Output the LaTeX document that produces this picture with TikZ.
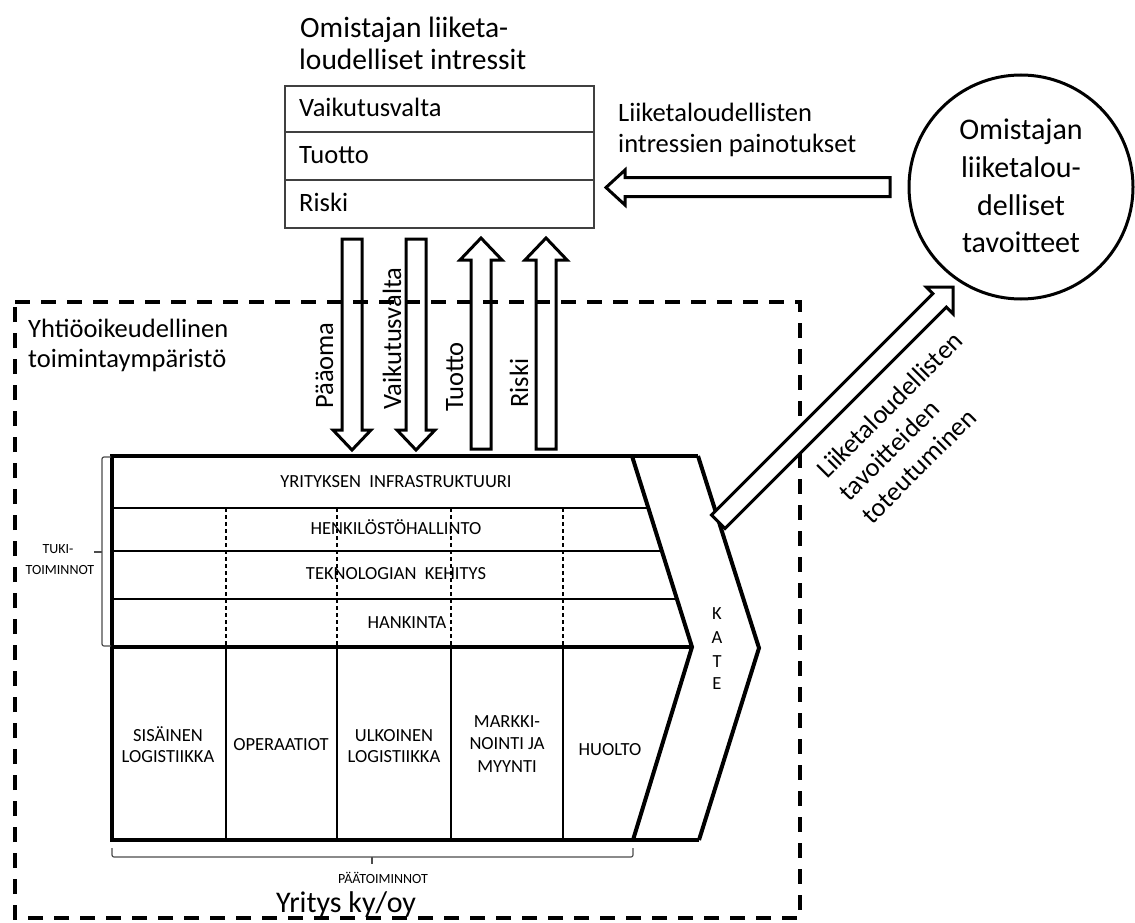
\documentclass[tikz,border=0pt]{standalone}
\usepackage{fontspec}
\setmainfont{Carlito}
\tikzset{
  big/.style={font=\fontsize{26.5}{32}\selectfont, inner sep=0pt},
  titletext/.style={font=\fontsize{29.5}{32}\selectfont, inner sep=0pt},
  circtext/.style={font=\fontsize{30}{37}\selectfont, inner sep=0pt},
  huge/.style={font=\fontsize{30}{36}\selectfont, inner sep=0pt},
  small/.style={font=\fontsize{18.5}{21}\selectfont, inner sep=0pt},
  tiny/.style={font=\fontsize{14}{17}\selectfont, inner sep=0pt},
  blockarrow/.style={draw=black, line width=3pt, line join=miter},
  thickline/.style={line width=4pt, line join=miter},
  thinline/.style={line width=1.3pt},
  boxline/.style={draw=black!75, line width=1.6pt},
  bracestyle/.style={draw=black!70, line width=1.2pt, rounded corners=2pt},
}
\begin{document}
\begin{tikzpicture}[x=1pt,y=-1pt]
\useasboundingbox (0,0) rectangle (1135,923);

% title and box of interests
\node[titletext, anchor=base west] (t1) at (300,38) {Omistajan liiketa-};
\node[titletext, anchor=base west] (t2) at (299,70) {loudelliset intressit};
\node[boxline, minimum width=309pt, minimum height=142pt, inner sep=0pt, anchor=north west] (box) at (284,85) {};
\draw[boxline] (box.west |- 0,132) -- (box.east |- 0,132);
\draw[boxline] (box.west |- 0,180) -- (box.east |- 0,180);
\node[big, anchor=base west] (r1) at (299,117) {Vaikutusvalta};
\node[big, anchor=base west] (r2) at (299,163.5) {Tuotto};
\node[big, anchor=base west] (r3) at (299,211.5) {Riski};

% goal circle
\node[draw, circle, line width=3pt, minimum size=224pt, inner sep=0pt] (goal) at (1021,187) {};
\node[circtext, anchor=base] (g1) at (1021,140) {Omistajan};
\node[circtext, anchor=base] (g2) at (1021,177.5) {liiketalou-};
\node[circtext, anchor=base] (g3) at (1021,215) {delliset};
\node[circtext, anchor=base] (g4) at (1021,252) {tavoitteet};

% horizontal arrow goal -> interests
\draw[blockarrow] (890,177.5) -- (625,177.5) -- (625,170) -- (606,187.5) -- (625,205) -- (625,196.5) -- (890,196.5) -- cycle;
\node[big, anchor=base west] (l1) at (618,122) {Liiketaloudellisten};
\node[big, anchor=base west] (l2) at (618,153) {intressien painotukset};

% vertical arrows
\draw[blockarrow] (342,239) -- (362,239) -- (362,430) -- (371,430) -- (352,450) -- (333,430) -- (342,430) -- cycle;
\draw[blockarrow] (406,239) -- (426,239) -- (426,430) -- (435,430) -- (416,450) -- (397,430) -- (406,430) -- cycle;
\draw[blockarrow] (471,449) -- (491,449) -- (491,260) -- (502,260) -- (481,238) -- (460,260) -- (471,260) -- cycle;
\draw[blockarrow] (536,449) -- (556,449) -- (556,260) -- (567,260) -- (546,238) -- (525,260) -- (536,260) -- cycle;
\node[big, rotate=90, anchor=base west] (lp) at (333,409) {Pääoma};
\node[big, rotate=90, anchor=base west] (lv) at (401,410) {Vaikutusvalta};
\node[big, rotate=90, anchor=base west] (lt) at (463,412) {Tuotto};
\node[big, rotate=90, anchor=base west] (lr) at (528,408) {Riski};

% dashed environment frame
\draw[line width=3.5pt, dash pattern=on 15pt off 11pt] (15,302) -- (800,302) -- (800,918) -- (15,918) -- cycle;
\node[big, anchor=base west] (e1) at (28,337) {Yhtiöoikeudellinen};
\node[big, anchor=base west] (e2) at (28,367) {toimintaympäristö};

% value chain
\draw[thinline] (112,508) -- (648.3,508);
\draw[thinline] (112,551) -- (661.8,551);
\draw[thinline] (112,599) -- (676.9,599);
\foreach \xx in {226,337,451,563} {
  \draw[line width=1.1pt, dash pattern=on 4pt off 3pt] (\xx,508) -- (\xx,647);
  \draw[thinline] (\xx,647) -- (\xx,840);
}
\draw[thickline] (698,456) -- (112,456) -- (112,840) -- (699,840);
\draw[thickline] (112,647) -- (692,647);
\draw[thickline] (632,456) -- (692,647) -- (633,840);
\draw[thickline] (698,456) -- (759,648) -- (699,840);

\node[small, anchor=base] (s1) at (396,487) {YRITYKSEN\ \ INFRASTRUKTUURI};
\node[small, anchor=base] (s2) at (396,534) {HENKILÖSTÖHALLINTO};
\node[small, anchor=base] (s3) at (396,579) {TEKNOLOGIAN\ \ KEHITYS};
\node[small, anchor=base] (s4) at (407,628) {HANKINTA};

\node[small, anchor=base] (p1a) at (168,741) {SISÄINEN};
\node[small, anchor=base] (p1b) at (168,762) {LOGISTIIKKA};
\node[small, anchor=base] (p2) at (281,750) {OPERAATIOT};
\node[small, anchor=base] (p3a) at (394,741) {ULKOINEN};
\node[small, anchor=base] (p3b) at (394,762) {LOGISTIIKKA};
\node[small, anchor=base] (p4a) at (507,727) {MARKKI-};
\node[small, anchor=base] (p4b) at (507,749) {NOINTI JA};
\node[small, anchor=base] (p4c) at (507,772) {MYYNTI};
\node[small, anchor=base] (p5) at (610,755) {HUOLTO};

\node[small, anchor=base] (k1) at (717,619) {K};
\node[small, anchor=base] (k2) at (717,643) {A};
\node[small, anchor=base] (k3) at (717,667) {T};
\node[small, anchor=base] (k4) at (717,689) {E};

% braces
\draw[bracestyle] (111,457) -| (102,552) |- (111,646);
\draw[bracestyle] (102,552) -- (94,552);
\node[tiny, anchor=base] (b1) at (58,553) {TUKI-};
\node[tiny, anchor=base] (b2) at (60,574) {TOIMINNOT};
\draw[bracestyle] (112,848) |- (372,857) -| (633,848);
\draw[bracestyle] (372,857) -- (372,864);
\node[tiny, anchor=base] (b3) at (383,883) {PÄÄTOIMINNOT};
\node[huge, anchor=base] (firm) at (346,912) {Yritys ky/oy};

% diagonal arrow to goal
\draw[blockarrow, fill=white] (711.5,515.1) -- (932.85,293.71) -- (926.14,287) -- (953,287) -- (953,313.87) -- (946.29,307.15) -- (724.9,528.5) -- cycle;
\node[big, rotate=45, anchor=base west] (d1) at (827,480) {Liiketaloudellisten};
\node[big, rotate=45, anchor=base west] (d2) at (849.6,502.6) {tavoitteiden};
\node[big, rotate=45, anchor=base west] (d3) at (872.3,525.3) {toteutuminen};
\end{tikzpicture}
\end{document}
